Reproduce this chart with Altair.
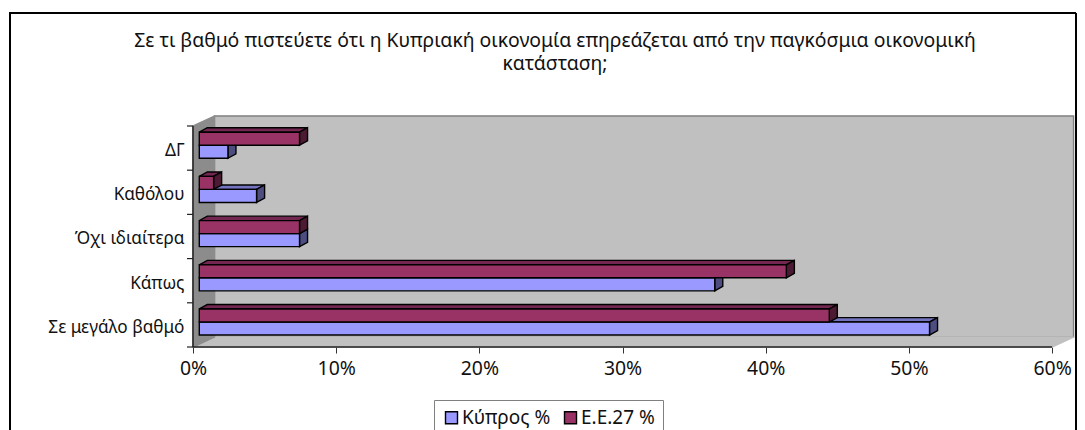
import json
import altair as alt
import pandas as pd

categories = ["Σε μεγάλο βαθμό", "Κάπως", "Όχι ιδιαίτερα", "Καθόλου", "ΔΓ"]
cyprus = [51, 36, 7, 4, 2]
eu27 = [44, 41, 7, 1, 7]
series_names = ["Κύπρος %", "Ε.Ε.27 %"]
tick_labels = [0, 10, 20, 30, 40, 50, 60]
title_lines = ["Σε τι βαθμό πιστεύετε ότι η Κυπριακή οικονομία επηρεάζεται από την παγκόσμια οικονομική", "κατάσταση;"]

FONT = "Noto Sans"
W, H = 882, 231
X_MAX, Y_MAX = 61.6, 5.226
WALL_DX, WALL_DY = 1.5, 0.226
BAR_DX, BAR_DY = 0.56, 0.1
BAR_X0, BAR_Y0, BAR_H = 0.44, 0.27, 0.295

x_scale = alt.Scale(domain=[0, X_MAX], nice=False, zero=False)
y_scale = alt.Scale(domain=[0, Y_MAX], nice=False, zero=False)

polys = []
def poly(pid, fill, stroke, pts):
    for k, (px, py) in enumerate(pts):
        polys.append(dict(pid=pid, k=k, x=px, y=py, fill=fill, stroke=stroke))

n = len(categories)
poly("w1", "#C0C0C0", "#808080", [(WALL_DX, WALL_DY), (60 + WALL_DX, WALL_DY), (60 + WALL_DX, n + WALL_DY), (WALL_DX, n + WALL_DY)])
poly("w2", "#C0C0C0", "#C0C0C0", [(0, 0), (60, 0), (60 + WALL_DX, WALL_DY), (WALL_DX, WALL_DY)])
poly("w3", "#8C8C8C", "#8C8C8C", [(0, 0), (WALL_DX, WALL_DY), (WALL_DX, n + WALL_DY), (0, n)])

fronts = []
sides = [("#7373BF", "#4D4D80"), ("#732650", "#4D1A33")]
for s, (vals, name) in enumerate(zip([cyprus, eu27], series_names)):
    for i, v in enumerate(vals):
        x0, x1 = BAR_X0, BAR_X0 + v
        y0 = i + BAR_Y0 + s * BAR_H
        y1 = y0 + BAR_H
        poly(f"t{s}{i}", sides[s][0], "black", [(x0, y1), (x1, y1), (x1 + BAR_DX, y1 + BAR_DY), (x0 + BAR_DX, y1 + BAR_DY)])
        poly(f"s{s}{i}", sides[s][1], "black", [(x1, y0), (x1 + BAR_DX, y0 + BAR_DY), (x1 + BAR_DX, y1 + BAR_DY), (x1, y1)])
        fronts.append(dict(series=name, x=x0, x2=x1, y=y0, y2=y1))

faces = alt.Chart(pd.DataFrame(polys)).mark_line(interpolate="linear-closed", strokeWidth=1.4).encode(
    x=alt.X("x:Q", scale=x_scale, title=None, axis=alt.Axis(
        values=tick_labels, labelExpr="datum.value + '%'", domain=False, grid=False, tickSize=6, labelFlush=False,
        tickColor="#333333", labelColor="#111111", labelFont=FONT, labelFontSize=19.4, labelPadding=6)),
    y=alt.Y("y:Q", scale=y_scale, title=None, axis=alt.Axis(
        values=[i + 0.5 for i in range(n)], labelExpr=json.dumps(categories, ensure_ascii=False) + "[floor(datum.value)]",
        domain=False, grid=False, ticks=False, labelColor="#111111", labelFont=FONT, labelFontSize=17.2, labelPadding=9, labelOffset=2.5)),
    detail="pid:N",
    order="k:Q",
    fill=alt.Fill("fill:N", scale=None),
    stroke=alt.Stroke("stroke:N", scale=None),
)

front_layer = alt.Chart(pd.DataFrame(fronts)).mark_rect(stroke="black", strokeWidth=1.4).encode(
    x=alt.X("x:Q", scale=x_scale, title=None),
    x2="x2:Q",
    y=alt.Y("y:Q", scale=y_scale, title=None),
    y2="y2:Q",
    color=alt.Color("series:N", scale=alt.Scale(domain=series_names, range=["#9999FF", "#993366"]), sort=series_names, legend=alt.Legend(
        title=None, orient="none", legendX=241, legendY=284, direction="horizontal", symbolType="square", symbolSize=144,
        symbolStrokeColor="black", symbolStrokeWidth=1.4, symbolOpacity=1, labelFont=FONT, labelFontSize=19, labelColor="#111111",
        strokeColor="#808080", fillColor="white", padding=8, columnPadding=10, labelOffset=1)),
)

rule_x = pd.DataFrame(dict(x=[0], x2=[60], y=[0]))
baseline = alt.Chart(rule_x).mark_rule(color="#222222", strokeWidth=1.5).encode(
    x=alt.X("x:Q", scale=x_scale, title=None), x2="x2:Q", y=alt.Y("y:Q", scale=y_scale, title=None))
rule_y = pd.DataFrame(dict(x=[0], y=[0], y2=[n]))
axis_line = alt.Chart(rule_y).mark_rule(color="#222222", strokeWidth=1.5).encode(
    x=alt.X("x:Q", scale=x_scale, title=None), y=alt.Y("y:Q", scale=y_scale, title=None), y2="y2:Q")
tk = pd.DataFrame(dict(x=[-0.42] * (n + 1), x2=[0] * (n + 1), y=list(range(n + 1))))
ticks = alt.Chart(tk).mark_rule(color="#222222", strokeWidth=1.2).encode(
    x=alt.X("x:Q", scale=x_scale, title=None), x2="x2:Q", y=alt.Y("y:Q", scale=y_scale, title=None))

d = pd.DataFrame({"a": [0]})
frame_left = alt.Chart(d).mark_rule(color="black", strokeWidth=2).encode(x=alt.value(-183), y=alt.value(-103), y2=alt.value(320))
frame_top = alt.Chart(d).mark_rule(color="black", strokeWidth=2).encode(x=alt.value(-184), x2=alt.value(883), y=alt.value(-103))
frame_right = alt.Chart(d).mark_rule(color="black", strokeWidth=2).encode(x=alt.value(883), y=alt.value(-103), y2=alt.value(320))

chart = alt.layer(faces, baseline, axis_line, ticks, front_layer, frame_left, frame_top, frame_right).properties(
    width=W, height=H,
    padding={"left": 185, "top": 108, "right": 2, "bottom": 83},
    autosize=alt.AutoSizeParams(type="none"),
    title=alt.TitleParams(title_lines, font=FONT, fontSize=19.4, fontWeight="normal", color="#111111",
                          anchor="middle", frame="group", dx=-79, offset=-62.5, lineHeight=23.5),
).configure(background="white", view=alt.ViewConfig(stroke=None))

chart.save("out.html", embed_options={"renderer": "svg", "actions": False})
